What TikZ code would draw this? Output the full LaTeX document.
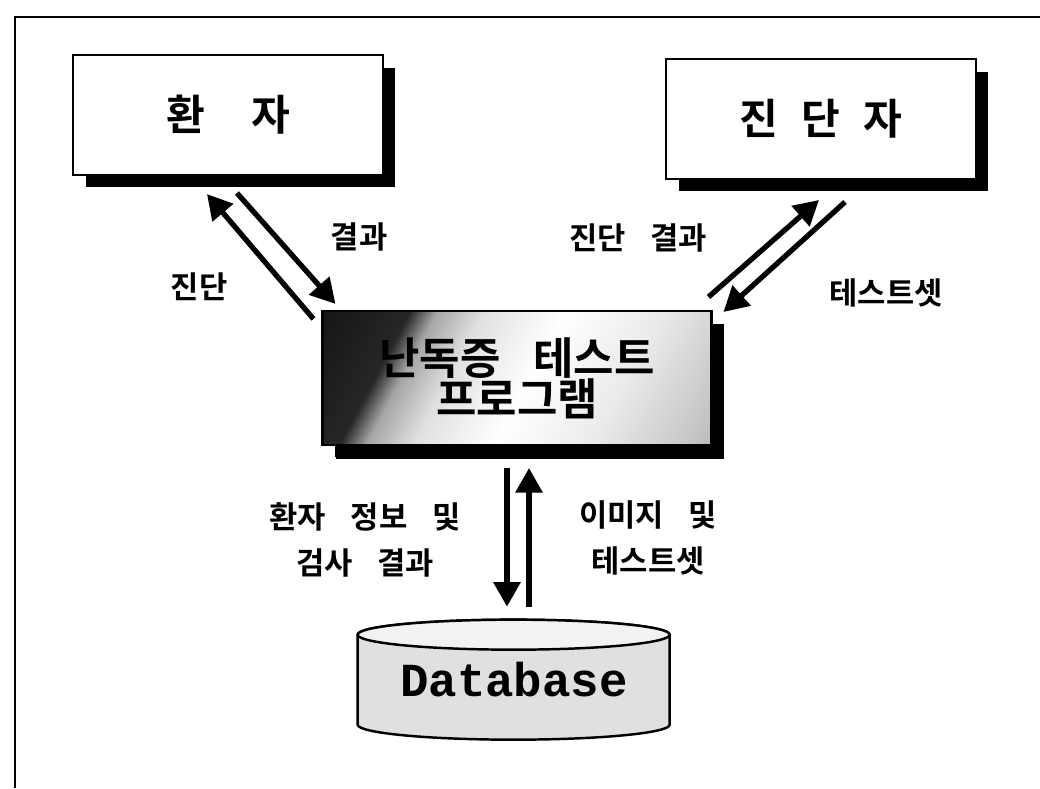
\documentclass[tikz,border=0pt]{standalone}
\usepackage{fontspec}
\newfontfamily\krfont[BoldFont={Noto Sans CJK KR Bold}]{Noto Sans CJK KR}
\newfontfamily\dbfont{Liberation Mono}
\usetikzlibrary{arrows.meta, shadows, backgrounds}

\pgfdeclarehorizontalshading{progfade}{100bp}{color(0bp)=(black); color(29bp)=(black!85); color(33bp)=(black!35); color(40bp)=(black!12); color(52bp)=(white); color(66bp)=(black!8); color(80bp)=(black!22); color(100bp)=(black!45)}
\newcommand\gap{\hspace{0.8em}}

\begin{document}
\begin{tikzpicture}[x=0.02cm,y=-0.02cm,
  actor/.style={draw, line width=1.2pt, fill=white, minimum width=6.2cm, minimum height=2.4cm,
    font=\krfont\bfseries\fontsize{24}{28}\selectfont,
    drop shadow={shadow xshift=0.25cm, shadow yshift=-0.25cm, opacity=1, fill=black}},
  tag/.style={font=\krfont\bfseries\fontsize{17.5}{26}\selectfont, align=center},
  flow/.style={line width=3pt, -{Triangle[length=14pt,width=15pt]}}]
\useasboundingbox (0,0) rectangle (1040,788);
\draw[line width=1.6pt] (15,788) -- (15,17) -- (1040,17);

\node[actor] (patient) at (228,115) {환\hspace{1.1em}자};
\node[actor] (diag) at (821,119) {진\hspace{0.55em}단\hspace{0.55em}자};
\node[actor, minimum width=7.78cm, minimum height=2.68cm, shade, shading=progfade, shading angle=-28,
  font=\krfont\bfseries\fontsize{25}{26}\selectfont, align=center,
  drop shadow={shadow xshift=0.26cm, shadow yshift=-0.28cm, opacity=1, fill=black}]
  (prog) at (517,378) {\raisebox{-0.1em}{난독증\hspace{0.75em}테스트}\\프로그램};
\node[minimum width=6.24cm, minimum height=2.4cm, font=\dbfont\bfseries\fontsize{27}{30}\selectfont]
  (db) at (514,680) {\raisebox{-0.15em}{Database}};
\begin{scope}[on background layer]
\draw[line width=1.4pt, fill=black!12] ([shift={(0,15)}]db.north west) -- ++(0,90)
  arc[start angle=180, end angle=0, x radius=156, y radius=15] -- ++(0,-90)
  arc[start angle=0, end angle=-180, x radius=156, y radius=15] -- cycle;
\draw[line width=1.4pt, fill=black!5] ([shift={(156,15)}]db.north west) ellipse [x radius=156, y radius=15];
\end{scope}

\draw[flow] ([shift={(-8,9)}]prog.north west) -- ([shift={(135,18)}]patient.south west);
\draw[flow] ([shift={(165,17)}]patient.south west) -- ([shift={(14,-6)}]prog.north west);
\draw[flow] ([shift={(-4,-13)}]prog.north east) -- ([shift={(154,20)}]diag.south west);
\draw[flow] ([shift={(180,22)}]diag.south west) -- ([shift={(11,2)}]prog.north east);
\draw[flow] ([shift={(-10,22)}]prog.south) -- ([shift={(-7,-13)}]db.north);
\draw[flow] ([shift={(15,-13)}]db.north) -- ([shift={(12,22)}]prog.south);

\node[tag] (result) at (359,237) {결과};
\node[tag] (diagnosis) at (199,287) {진단};
\node[tag] (diagresult) at (638,238) {진단\gap 결과};
\node[tag] (testset) at (886,293) {테스트셋};
\node[tag] (info) at (365,540) {환자\gap 정보\gap 및\\검사\gap 결과};
\node[tag] (images) at (648,538) {이미지\gap 및\\테스트셋};
\end{tikzpicture}
\end{document}
